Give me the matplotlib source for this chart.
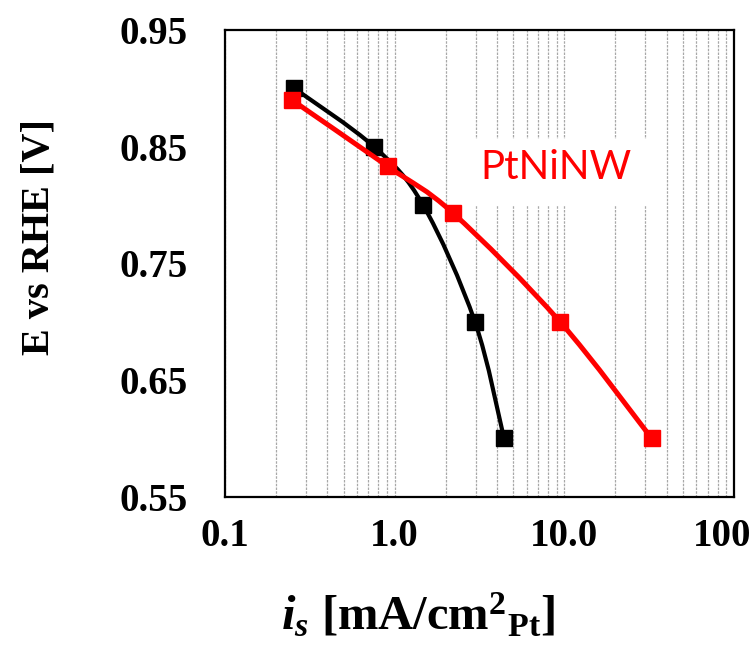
import numpy as np
import matplotlib
matplotlib.use('Agg')
import matplotlib.pyplot as plt
import matplotlib.transforms as mtransforms
from matplotlib.path import Path
from matplotlib.patches import PathPatch, Rectangle
from matplotlib.ticker import FixedLocator, NullFormatter

# ── data ─────────────────────────────────────────────────────────────────────
pt_current = [0.256, 0.755, 1.47, 2.97, 4.41]       # black series
pt_potential = [0.90, 0.85, 0.80, 0.70, 0.60]

ptninw_current = [0.248, 0.913, 2.21, 9.42, 32.7]   # red series
ptninw_potential = [0.89, 0.833, 0.793, 0.70, 0.60]

x_ticks = [0.1, 1.0, 10.0, 100.0]
x_tick_labels = ['0.1', '1.0', '10.0', '100']
y_ticks = [0.55, 0.65, 0.75, 0.85, 0.95]
y_tick_labels = ['0.55', '0.65', '0.75', '0.85', '0.95']

plt.rcParams['mathtext.fontset'] = 'custom'
plt.rcParams['mathtext.rm'] = 'Liberation Serif:bold'
plt.rcParams['mathtext.it'] = 'Liberation Serif:bold:italic'
plt.rcParams['mathtext.bf'] = 'Liberation Serif:bold'


def smooth_path(xs, ys):
    """Excel-like smoothed line: Catmull-Rom bezier in (log x, y) space."""
    lx = np.log10(xs)
    pts = np.column_stack([lx, ys])
    n = len(pts)
    verts = [pts[0]]
    codes = [Path.MOVETO]
    for i in range(n - 1):
        p0 = pts[max(i - 1, 0)]
        p1 = pts[i]
        p2 = pts[i + 1]
        p3 = pts[min(i + 2, n - 1)]
        c1 = p1 + (p2 - p0) / 6.0
        c2 = p2 - (p3 - p1) / 6.0
        verts += [c1, c2, p2]
        codes += [Path.CURVE4] * 3
    verts = np.array(verts)
    verts[:, 0] = 10 ** verts[:, 0]
    return Path(verts, codes)


fig = plt.figure(figsize=(7.5, 6.49), dpi=100)
ax = fig.add_axes([0.30, 0.2347, 0.6787, 0.7191])

ax.set_xscale('log')
ax.set_xlim(0.1, 100)
ax.set_ylim(0.55, 0.95)

# vertical grid (major + minor)
ax.xaxis.set_minor_locator(FixedLocator(
    [m * 10.0 ** e for e in (-1, 0, 1) for m in range(2, 10)]))
ax.xaxis.set_minor_formatter(NullFormatter())
ax.grid(which='both', axis='x', color='#A8A8A8', linewidth=0.9,
        linestyle=(0, (2, 1)), zorder=0.5)
ax.set_axisbelow(True)

# white label box hiding grid behind the series name
ax.add_patch(Rectangle((0.446, 0.625), 0.413, 0.142, transform=ax.transAxes,
                       facecolor='white', edgecolor='none', zorder=1.2))

# black series
ax.add_patch(PathPatch(smooth_path(pt_current, pt_potential), fill=False,
                       edgecolor='black', linewidth=3.0, zorder=3,
                       capstyle='butt'))
ax.plot(pt_current, pt_potential, linestyle='none', marker='s',
        markersize=11.5, color='black', zorder=4)

# red series
ax.add_patch(PathPatch(smooth_path(ptninw_current, ptninw_potential),
                       fill=False, edgecolor='#FF0000', linewidth=3.6,
                       zorder=5, capstyle='butt'))
ax.plot(ptninw_current, ptninw_potential, linestyle='none', marker='s',
        markersize=11.5, color='#FF0000', zorder=6)

ax.text(0.650, 0.705, 'PtNiNW', transform=ax.transAxes, color='#FF0000',
        fontsize=29, family='Lato', ha='center', va='center', zorder=7)

# ticks
ax.set_xticks(x_ticks)
ax.set_xticklabels(x_tick_labels)
ax.set_yticks(y_ticks)
ax.set_yticklabels(y_tick_labels)
ax.tick_params(axis='both', which='both', length=0)
ax.tick_params(axis='x', pad=15)
ax.tick_params(axis='y', pad=27)
for lab in ax.get_xticklabels() + ax.get_yticklabels():
    lab.set_fontfamily('Liberation Serif')
    lab.set_fontweight('bold')
    lab.set_fontsize(28)

# last x label sits inside the figure, as in the reference
last = ax.get_xticklabels()[-1]
last.set_transform(last.get_transform() +
                   mtransforms.ScaledTranslation(-0.12, 0, fig.dpi_scale_trans))

for sp in ax.spines.values():
    sp.set_linewidth(1.6)
    sp.set_color('black')

fig.text(0.052, 0.635, 'E vs RHE [V]', rotation=90, ha='center', va='center',
         family='Liberation Serif', fontweight='bold', fontsize=29)
fig.text(0.557, 0.052, r'$i_s$ [mA/cm$^{2}$$_{\mathrm{Pt}}$]', ha='center',
         va='center', family='Liberation Serif', fontweight='bold',
         fontsize=35)

fig.savefig('out.png', dpi=100)
